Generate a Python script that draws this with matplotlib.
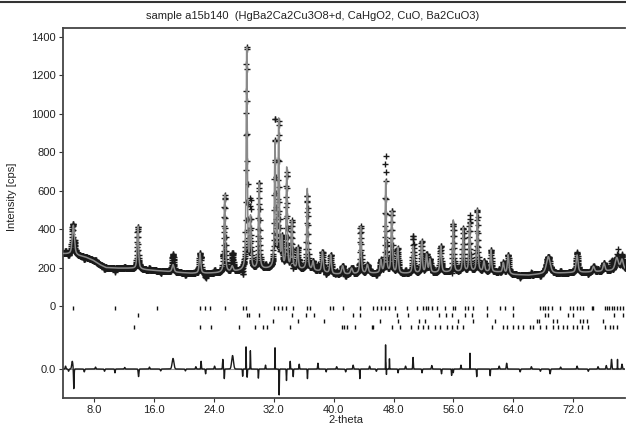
import numpy as np
import matplotlib
matplotlib.use('Agg')
import matplotlib.pyplot as plt
from matplotlib.lines import Line2D

plt.rcParams['font.family'] = ['Liberation Sans', 'DejaVu Sans']

title = "sample a15b140  (HgBa2Ca2Cu3O8+d, CaHgO2, CuO, Ba2CuO3)"
x_label = "2-theta"
y_label = "Intensity [cps]"

# background knots (2-theta, counts)
bg_pos = [3.86, 4.6, 5.8, 6.8, 7.8, 8.8, 9.6, 11.0, 13.0, 15.0, 17.0, 19.0, 21.0, 23.0,
          24.5, 27.0, 30.0, 33.0, 36.0, 38.0, 40.0, 42.0, 45.0, 49.0, 53.0, 56.0, 60.0,
          62.0, 64.0, 66.0, 67.5, 70.0, 71.0, 74.0, 76.0, 78.9]
bg_val = [272, 270, 262, 255, 240, 215, 200, 197, 196, 188, 182, 175, 170, 170,
          172, 180, 190, 195, 190, 180, 165, 165, 170, 168, 172, 176, 178,
          176, 163, 160, 165, 170, 172, 176, 180, 188]

# Bragg peaks: position, top intensity, half width
peak_pos = [5.24, 13.85, 18.55, 22.15, 25.45, 26.45, 28.39, 28.90, 30.03, 32.17, 32.66,
            33.10, 33.73, 34.40, 35.20, 36.48, 37.24, 38.50, 39.60, 41.20, 42.40, 43.60,
            44.50, 46.30, 46.95, 47.75, 48.55, 50.63, 51.75, 52.40, 52.85, 54.30, 55.97,
            57.30, 58.15, 59.18, 60.07, 61.00, 62.65, 63.30, 68.66, 72.50, 74.70, 76.10,
            77.80, 78.50]
peak_top = [420, 418, 215, 275, 585, 205, 1355, 450, 640, 850, 955,
            340, 718, 437, 300, 609, 230, 281, 265, 208, 195, 413,
            213, 235, 656, 491, 303, 310, 340, 265, 240, 312, 448,
            404, 432, 500, 231, 291, 224, 265, 257, 265, 205, 222,
            250, 240]
peak_hw = [0.17, 0.11, 0.15, 0.12, 0.10, 0.15, 0.09, 0.10, 0.10, 0.10, 0.09,
           0.10, 0.09, 0.10, 0.10, 0.09, 0.12, 0.12, 0.12, 0.15, 0.15, 0.10,
           0.15, 0.12, 0.09, 0.10, 0.12, 0.12, 0.10, 0.12, 0.12, 0.12, 0.10,
           0.10, 0.10, 0.10, 0.12, 0.10, 0.12, 0.12, 0.30, 0.15, 0.15, 0.15,
           0.25, 0.20]

# obs - calc features: position, amplitude, width
dev_pos = [4.20, 4.60, 5.10, 5.30, 6.70, 8.20, 9.40, 10.80, 12.10, 13.95, 15.40, 16.90,
           18.55, 20.20, 21.60, 22.30, 22.90, 24.10, 25.20, 25.40, 26.50, 27.85, 28.30,
           28.45, 28.88, 29.95, 30.90, 32.17, 32.72, 33.70, 34.20, 34.60, 35.40, 36.50,
           37.90, 39.00, 40.40, 41.60, 42.60, 43.50, 44.80, 45.70, 46.93, 46.97, 47.05,
           47.45, 48.60, 49.60, 50.60, 51.80, 53.10, 54.40, 55.75, 55.97, 57.00, 58.20,
           59.10, 60.90, 62.10, 63.10, 64.90, 66.40, 67.60, 68.90, 70.30, 72.50, 74.00,
           75.30, 76.40, 77.10, 77.90, 78.50]
dev_amp = [15, -12, 40, -104, -15, 10, -12, -20, 8, -40, 10, -10,
           55, -10, 12, 40, -25, 15, 50, -50, 70, -40, 115,
           -45, 95, -50, 20, 125, -135, -60, 40, -40, 25, -50,
           30, -15, 12, -15, 20, -50, 15, -12, 175, 45, -35,
           60, -20, 15, 60, -20, 18, -25, -35, -20, 20, 82,
           -40, -35, 15, 30, -15, 12, -12, -25, 10, 15, -12,
           12, 18, 50, 50, 25]
dev_w = [0.05, 0.05, 0.08, 0.04, 0.05, 0.05, 0.05, 0.04, 0.05, 0.05, 0.05, 0.05,
         0.12, 0.05, 0.05, 0.04, 0.04, 0.05, 0.04, 0.03, 0.12, 0.03, 0.02,
         0.03, 0.03, 0.03, 0.04, 0.02, 0.03, 0.03, 0.03, 0.03, 0.04, 0.03,
         0.04, 0.04, 0.05, 0.05, 0.05, 0.03, 0.05, 0.05, 0.012, 0.012, 0.015,
         0.02, 0.04, 0.05, 0.04, 0.04, 0.05, 0.04, 0.03, 0.03, 0.04, 0.015,
         0.03, 0.03, 0.05, 0.05, 0.05, 0.05, 0.05, 0.05, 0.05, 0.05, 0.05,
         0.05, 0.05, 0.05, 0.015, 0.05]

# reflection markers of the four phases
phase1 = [5.24, 10.80, 16.45, 22.15, 22.78, 23.49, 25.45, 27.85, 28.29, 32.03, 32.52,
          33.06, 33.63, 34.53, 36.48, 36.84, 39.51, 39.95, 41.28, 43.51, 45.29, 45.82,
          46.28, 46.85, 47.42, 48.19, 49.75, 51.08, 51.96, 52.32, 52.63, 53.08, 53.75,
          54.86, 55.97, 56.19, 57.53, 57.97, 58.64, 60.43, 62.20, 62.87, 63.90, 67.54,
          67.90, 68.21, 68.65, 69.10, 70.21, 71.55, 71.99, 72.44, 72.89, 73.32, 74.45,
          74.66, 76.22, 76.45, 76.80, 77.11, 77.42, 77.78, 78.20, 78.60]
phase2 = [13.88, 28.39, 28.75, 30.00, 34.40, 36.30, 37.40, 42.62, 43.51, 48.49, 49.96,
          54.10, 54.99, 55.75, 57.53, 58.43, 60.43, 63.98, 68.21, 68.65, 71.32, 71.91,
          77.42, 78.66]
phase3 = [31.90, 35.30, 38.70, 46.18, 48.63, 51.43, 52.19, 56.64, 58.64, 61.53, 67.10,
          67.45, 69.32, 69.77, 72.89, 73.32, 73.77, 75.99]
phase4 = [13.38, 22.15, 23.58, 27.32, 29.53, 30.60, 31.13, 34.17, 41.07, 41.38, 41.74,
          42.85, 45.07, 45.29, 47.74, 48.85, 50.32, 51.30, 51.96, 52.63, 53.52, 54.19,
          55.09, 55.75, 56.42, 57.30, 61.09, 62.64, 63.10, 63.98, 64.65, 65.31, 66.21,
          66.65, 67.54, 68.34, 69.32, 69.99, 70.65, 71.11, 71.99, 72.44, 73.11, 73.99,
          76.22, 76.89, 77.33, 77.78]
phase_rows = [-10, -47, -78, -109]

x_ticks = [8.0, 16.0, 24.0, 32.0, 40.0, 48.0, 56.0, 64.0, 72.0]
x_tick_labels = ["8.0", "16.0", "24.0", "32.0", "40.0", "48.0", "56.0", "64.0", "72.0"]
y_ticks = [-328, 0, 200, 400, 600, 800, 1000, 1200, 1400]
y_tick_labels = ["0.0", "0", "200", "400", "600", "800", "1000", "1200", "1400"]
diff_offset = -328

x_min, x_max = 3.86, 78.9
y_min, y_max = -479, 1447

# ---- profile ----
tt = np.arange(x_min, x_max, 0.02)
bg = np.interp(tt, bg_pos, bg_val)
calc = bg.copy()
for p, top, w in zip(peak_pos, peak_top, peak_hw):
    amp = top - np.interp(p, bg_pos, bg_val)
    d = (tt - p) / w
    calc += amp * (0.6 / (1 + d ** 2) + 0.4 * np.exp(-np.log(2) * d ** 2))
diff = np.zeros_like(tt)
for p, a, w in zip(dev_pos, dev_amp, dev_w):
    diff += a * np.exp(-0.5 * ((tt - p) / w) ** 2)
obs = calc + diff

fig = plt.figure(figsize=(6.26, 4.30), dpi=100)
ax = fig.add_axes([63 / 626, 1 - 398 / 430, 562 / 626, 370 / 430])

ax.plot(tt, obs, ls='none', marker='+', ms=4.0, mew=1.0, color='#1a1a1a', zorder=2)
ax.plot(tt, calc, color='#8a8a8a', lw=1.1, zorder=3)

ax.axhline(diff_offset, color='#9a9a9a', lw=0.8, zorder=1)
ax.plot(tt, diff + diff_offset, color='#1a1a1a', lw=1.0, zorder=2)

for row, ph in zip(phase_rows, [phase1, phase2, phase3, phase4]):
    ax.vlines(ph, row - 12, row + 12, color='#111111', lw=1.0)

ax.set_xlim(x_min, x_max)
ax.set_ylim(y_min, y_max)
ax.set_xticks(x_ticks)
ax.set_xticklabels(x_tick_labels)
ax.set_yticks(y_ticks)
ax.set_yticklabels(y_tick_labels)
ax.tick_params(direction='out', length=3, width=0.8, labelsize=8, pad=2,
               colors='#333333', labelcolor='#222222')
for s in ['left', 'bottom', 'top']:
    ax.spines[s].set_color('#444444')
    ax.spines[s].set_linewidth(1.3)
ax.spines['right'].set_visible(False)

fig.text(0.5, 1 - 16 / 430, title, ha='center', va='center', fontsize=8, color='#222222')
fig.text(12 / 626, 1 - 197 / 430, y_label, rotation=90, ha='center', va='center',
         fontsize=8, color='#222222')
fig.text(346 / 626, 1 - 420 / 430, x_label, ha='center', va='center', fontsize=8,
         color='#222222')
fig.add_artist(Line2D([0, 1], [1 - 1.5 / 430, 1 - 1.5 / 430], color='#333333', lw=1.5,
                      transform=fig.transFigure))

fig.savefig('out.png', dpi=100)
